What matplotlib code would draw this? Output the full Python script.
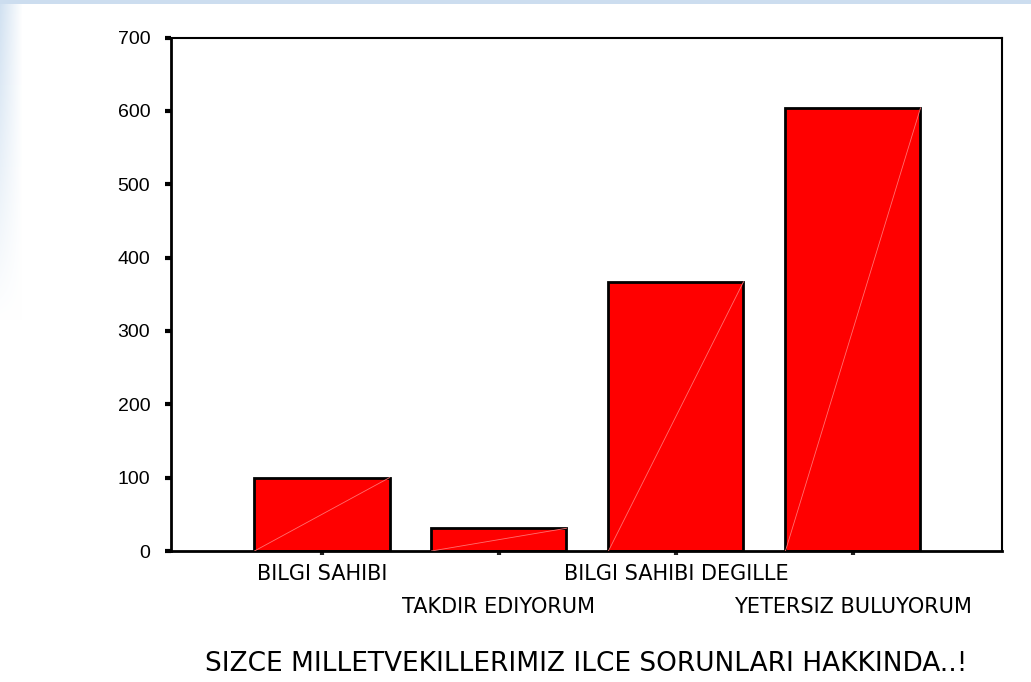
import numpy as np
import matplotlib
matplotlib.use("Agg")
import matplotlib.pyplot as plt

categories = ["BILGI SAHIBI", "TAKDIR EDIYORUM", "BILGI SAHIBI DEGILLE", "YETERSIZ BULUYORUM"]
counts = [100, 31, 367, 604]
y_ticks = [0, 100, 200, 300, 400, 500, 600, 700]
x_title = "SIZCE MILLETVEKILLERIMIZ ILCE SORUNLARI HAKKINDA..!"

plt.rcParams['font.family'] = ['Liberation Sans', 'DejaVu Sans']

W, H = 1031, 682
fig = plt.figure(figsize=(W / 100, H / 100), dpi=100)

# slide-like background: pale blue left strip fading downward, thin blue band on top
bg = fig.add_axes([0, 0, 1, 1], zorder=-10)
bg.set_xlim(0, W)
bg.set_ylim(H, 0)
bg.axis('off')
grad = np.ones((H, W, 3))
base = np.array([0.80, 0.87, 0.94])
xs = np.arange(W)
ys = np.arange(H)
fx = np.clip(1 - xs / 22.0, 0, 1)[None, :]
fy = np.clip(1 - ys / 320.0, 0, 1)[:, None]
a = (fx * fy * 0.9)[..., None]
grad = grad * (1 - a) + base * a
grad[:4, :, :] = base
bg.imshow(grad, extent=[0, W, H, 0], aspect='auto')

ax = fig.add_axes([171 / W, 1 - 551 / H, (1002 - 171) / W, (551 - 37.5) / H])
pos = np.arange(len(categories))
width = 0.763
bars = ax.bar(pos, counts, width=width, color='#ff0000', edgecolor='black',
              linewidth=2, zorder=2)
for p, v in zip(pos, counts):
    ax.plot([p - width / 2, p + width / 2], [0, v], color='#ff7070',
            linewidth=0.6, zorder=3)

ax.set_xlim(-0.853, 3.842)
ax.set_ylim(0, 700)
ax.set_yticks(y_ticks)
ax.set_yticklabels([str(t) for t in y_ticks], fontsize=14)
ax.tick_params(axis='y', direction='out', length=4, width=3, pad=11, color='black')
ax.set_xticks(pos)
ax.set_xticklabels(categories, fontsize=15, family=['DejaVu Sans'])
ax.tick_params(axis='x', direction='out', length=3, width=3, color='#222222')
for i, t in enumerate(ax.xaxis.get_major_ticks()):
    t.set_pad(6 if i % 2 == 0 else 30)

for s in ax.spines.values():
    s.set_linewidth(1.5)
    s.set_color('black')
ax.spines['left'].set_linewidth(2)
ax.spines['bottom'].set_linewidth(2)

ax.set_xlabel(x_title, fontsize=19, family=['DejaVu Sans'])
ax.xaxis.set_label_coords(0.5, -0.195)

fig.savefig("out.png", dpi=100)
